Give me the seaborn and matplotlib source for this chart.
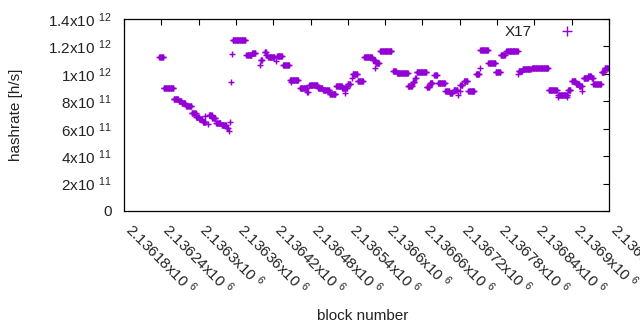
import numpy as np
import pandas as pd
import matplotlib
matplotlib.use("Agg")
import matplotlib.pyplot as plt
import seaborn as sns

# ---- data (runs of consecutive blocks sharing one value) ----
run_start = [2136237, 2136244, 2136260, 2136268, 2136273, 2136280, 2136289, 2136296,
             2136301, 2136307, 2136311, 2136315, 2136317, 2136322, 2136328, 2136337,
             2136345, 2136349, 2136351, 2136352, 2136354, 2136355, 2136377, 2136386,
             2136398, 2136400, 2136406, 2136409, 2136412, 2136425, 2136426, 2136436,
             2136447, 2136448, 2136463, 2136475, 2136478, 2136492, 2136500, 2136511,
             2136521, 2136531, 2136536, 2136540, 2136546, 2136548, 2136556, 2136566,
             2136580, 2136583, 2136585, 2136592, 2136613, 2136619, 2136637, 2136644,
             2136648, 2136651, 2136667, 2136672, 2136679, 2136685, 2136697, 2136704,
             2136710, 2136717, 2136720, 2136721, 2136727, 2136734, 2136746, 2136752,
             2136753, 2136766, 2136778, 2136786, 2136795, 2136814, 2136815, 2136821,
             2136836, 2136863, 2136864, 2136878, 2136878, 2136893, 2136894, 2136900,
             2136907, 2136912, 2136917, 2136919, 2136927, 2136932, 2136935, 2136948,
             2136953]
run_length = [7, 16, 8, 5, 6, 9, 7, 5,
              5, 5, 1, 1, 5, 6, 8, 8,
              3, 1, 1, 1, 1, 21, 9, 6,
              1, 3, 3, 2, 11, 1, 9, 10,
              14, 1, 12, 2, 14, 8, 11, 10,
              10, 8, 1, 5, 1, 8, 9, 14,
              5, 1, 6, 19, 5, 18, 7, 4,
              2, 16, 5, 5, 5, 12, 7, 5,
              7, 1, 1, 4, 6, 10, 6, 1,
              13, 12, 8, 7, 19, 1, 6, 14,
              27, 1, 13, 16, 1, 1, 5, 7,
              6, 5, 1, 8, 5, 3, 13, 5,
              6]
run_hashrate_ghs = [1121, 895, 817, 802, 785, 763, 717, 685,
                    671, 650, 695, 632, 700, 676, 644, 627,
                    603, 583, 647, 938, 1143, 1245, 1141, 1150,
                    1064, 1100, 1160, 1137, 1123, 1094, 1128, 1067,
                    955, 943, 895, 870, 916, 897, 880, 855,
                    915, 895, 858, 928, 967, 996, 950, 1120,
                    1098, 1040, 1081, 1164, 1023, 1003, 910, 940,
                    967, 1011, 902, 935, 992, 930, 873, 857,
                    882, 846, 875, 919, 946, 878, 996, 1040,
                    1171, 1076, 1013, 1135, 1170, 996, 1021, 1033,
                    1040, 882, 885, 848, 833, 833, 885, 946,
                    924, 911, 875, 967, 984, 967, 924, 1016,
                    1040]

x_ticks = [2136180, 2136240, 2136300, 2136360, 2136420, 2136480, 2136540,
           2136600, 2136660, 2136720, 2136780, 2136840, 2136900, 2136960]
x_tick_labels = ["2.13618", "2.13624", "2.1363", "2.13636", "2.13642", "2.13648",
                 "2.13654", "2.1366", "2.13666", "2.13672", "2.13678", "2.13684",
                 "2.1369", "2.13696"]
y_ticks = [0, 2e11, 4e11, 6e11, 8e11, 1e12, 1.2e12, 1.4e12]
y_tick_mant = ["0", "2", "4", "6", "8", "1", "1.2", "1.4"]
y_tick_exp = ["", "11", "11", "11", "11", "12", "12", "12"]
series_name = "X17"

# ---- build table ----
blocks, rates = [], []
for s, n, v in zip(run_start, run_length, run_hashrate_ghs):
    for k in range(n):
        blocks.append(s + k)
        rates.append(v * 1e9)
df = pd.DataFrame({"block": blocks, "hashrate": rates, "series": series_name})

# ---- style ----
sns.set_style("white")
plt.rcParams["font.family"] = ["Liberation Sans", "DejaVu Sans"]
plt.rcParams["mathtext.fontset"] = "custom"
plt.rcParams["mathtext.rm"] = "Liberation Sans"
plt.rcParams["mathtext.it"] = "Liberation Sans"
plt.rcParams["mathtext.bf"] = "Liberation Sans"

fig = plt.figure(figsize=(6.4, 3.3), dpi=100)
ax = fig.add_axes([124 / 640, 1 - 211 / 330, 485 / 640, 192 / 330])

color = "#9400D3"
sns.scatterplot(data=df, x="block", y="hashrate", ax=ax, marker="+", color=color,
                s=24, linewidth=1.05, label=series_name, legend=False)

ax.set_xlim(x_ticks[0], x_ticks[-1])
ax.set_ylim(0, 1.4e12)
ax.set_xticks(x_ticks)
ax.set_xticklabels([f"{t}x10 $^{{6}}$" for t in x_tick_labels], rotation=-45,
                   ha="left", va="baseline", rotation_mode="anchor", fontsize=11,
                   color="#222222")
ax.set_yticks(y_ticks)
ax.set_yticklabels([m if e == "" else f"{m}x10 $^{{{e}}}$" for m, e in zip(y_tick_mant, y_tick_exp)],
                   fontsize=11, color="#222222")

ax.tick_params(axis="both", which="both", direction="in", length=4, width=0.8,
               top=True, right=True, color="black")
ax.tick_params(axis="y", pad=9)
ax.tick_params(axis="x", pad=14)
for sp in ax.spines.values():
    sp.set_visible(True)
    sp.set_color("black")
    sp.set_linewidth(0.9)

ax.set_xlabel("block number", fontsize=11, color="#222222")
ax.set_ylabel("hashrate [h/s]", fontsize=11, color="#222222")
ax.xaxis.set_label_coords((363 - 124) / 485, -(309 - 211) / 192)
ax.yaxis.set_label_coords(-(124 - 23) / 485, 0.5)

h = plt.Line2D([], [], marker="+", color=color, linestyle="none",
               markersize=6.5, markeredgewidth=1.0)
ax.legend([h], [series_name], loc="center right", bbox_to_anchor=(0.944, 0.932),
          markerfirst=False, frameon=False, borderpad=0, handlelength=1.0,
          handletextpad=1.8, fontsize=11, labelcolor="#222222")

fig.savefig("out.png", dpi=100)
